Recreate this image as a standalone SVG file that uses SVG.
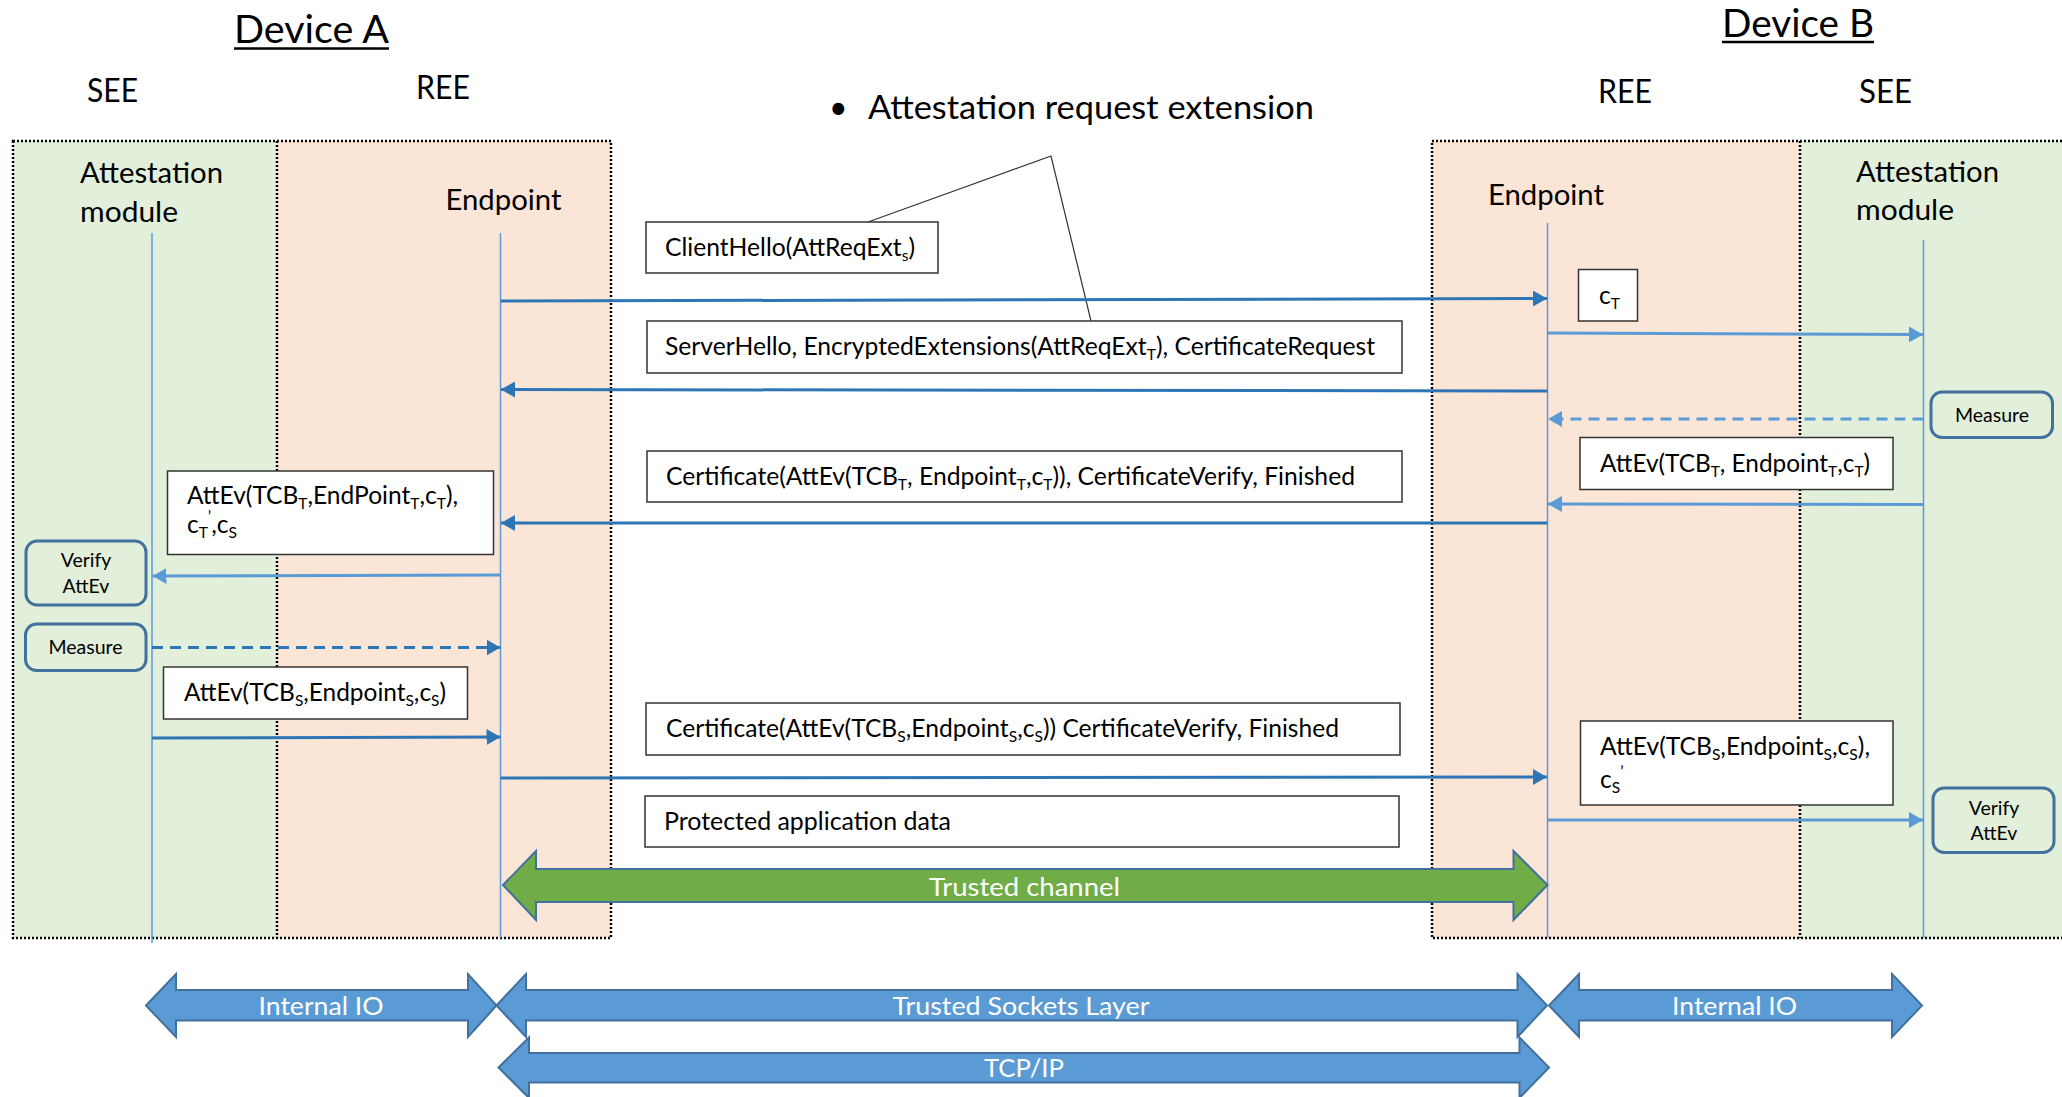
<svg xmlns="http://www.w3.org/2000/svg" width="2062" height="1097" viewBox="0 0 2062 1097">
  <style>
    text { font-family: Lato, "Liberation Sans", sans-serif; fill: #000; }
    .hdr { font-size: 38px; }
    .env { font-size: 32px; }
    .ent { font-size: 28.5px; }
    .lbl { font-size: 24.5px; }
    .small { font-size: 19.5px; }
    .band { font-size: 25px; fill: #fff; }
    .sub { font-size: 15.5px; }
    .sup { font-size: 15.5px; }
    .see { fill: #E2EFDA; }
    .ree { fill: #FBE5D6; }
    .dots { fill: none; stroke: #000; stroke-width: 2.5; stroke-dasharray: 2 2; }
    .life { stroke: #5B9BD5; stroke-width: 1.5; fill: none; }
    .msg { fill: #fff; stroke: #333; stroke-width: 1.5; }
    .act { fill: #E2EFDA; stroke: #41719C; stroke-width: 3; }
    .dark { stroke: #2E75B6; stroke-width: 3; fill: none; marker-end: url(#ahDark); }
    .light { stroke: #5B9BD5; stroke-width: 3; fill: none; marker-end: url(#ahLight); }
    .dash { stroke-dasharray: 11 7; }
    .blk { fill: #5B9BD5; stroke: #41719C; stroke-width: 2; }
    .grn { fill: #70AD47; stroke: #41719C; stroke-width: 2; }
    .callout { stroke: #333; stroke-width: 1.2; fill: none; }
  </style>
  <defs>
    <marker id="ahDark" markerUnits="userSpaceOnUse" markerWidth="16" markerHeight="16" refX="14" refY="8" orient="auto">
      <path d="M0,0 L14,8 L0,16 z" fill="#2E75B6"/>
    </marker>
    <marker id="ahLight" markerUnits="userSpaceOnUse" markerWidth="16" markerHeight="16" refX="14" refY="8" orient="auto">
      <path d="M0,0 L14,8 L0,16 z" fill="#5B9BD5"/>
    </marker>
  </defs>

  <rect width="2062" height="1097" fill="#fff"/>

  <!-- Device A environments -->
  <g id="deviceA">
    <rect class="see" x="13" y="141" width="264" height="797"/>
    <rect class="ree" x="277" y="141" width="334" height="797"/>
    <rect class="dots" x="13" y="141" width="598" height="797"/>
    <line class="dots" x1="277" y1="141" x2="277" y2="938"/>
    <text class="hdr" x="234" y="43" textLength="155" lengthAdjust="spacingAndGlyphs">Device A</text>
    <line x1="234" y1="48.5" x2="389" y2="48.5" stroke="#000" stroke-width="2.5"/>
    <text class="env" x="87" y="102" textLength="51" lengthAdjust="spacingAndGlyphs">SEE</text>
    <text class="env" x="416" y="99" textLength="54" lengthAdjust="spacingAndGlyphs">REE</text>
  </g>

  <!-- Device B environments -->
  <g id="deviceB">
    <rect class="ree" x="1432" y="141" width="368" height="797"/>
    <rect class="see" x="1800" y="141" width="262" height="797"/>
    <polyline class="dots" points="2062,141 1432,141 1432,938 2062,938"/>
    <line class="dots" x1="1800" y1="141" x2="1800" y2="938"/>
    <text class="hdr" x="1722" y="37" textLength="152" lengthAdjust="spacingAndGlyphs">Device B</text>
    <line x1="1722" y1="42" x2="1874" y2="42" stroke="#000" stroke-width="2.5"/>
    <text class="env" x="1598" y="102.5" textLength="54" lengthAdjust="spacingAndGlyphs">REE</text>
    <text class="env" x="1859" y="102.5" textLength="53" lengthAdjust="spacingAndGlyphs">SEE</text>
  </g>

  <!-- participants and lifelines -->
  <g id="attestA">
    <text class="ent" x="80" y="183" textLength="143" lengthAdjust="spacingAndGlyphs">Attestation</text>
    <text class="ent" x="80" y="222" textLength="98" lengthAdjust="spacingAndGlyphs">module</text>
    <line class="life" x1="152" y1="233" x2="152" y2="943"/>
  </g>
  <g id="endpointA">
    <text class="ent" x="445.5" y="210" textLength="116" lengthAdjust="spacingAndGlyphs">Endpoint</text>
    <line class="life" x1="500.5" y1="233" x2="500.5" y2="938"/>
  </g>
  <g id="endpointB">
    <text class="ent" x="1488" y="205" textLength="116" lengthAdjust="spacingAndGlyphs">Endpoint</text>
    <line class="life" x1="1547.5" y1="223" x2="1547.5" y2="938"/>
  </g>
  <g id="attestB">
    <text class="ent" x="1856" y="182" textLength="143" lengthAdjust="spacingAndGlyphs">Attestation</text>
    <text class="ent" x="1856" y="220" textLength="98" lengthAdjust="spacingAndGlyphs">module</text>
    <line class="life" x1="1923.5" y1="240" x2="1923.5" y2="938"/>
  </g>

  <!-- callout -->
  <g id="callout">
    <text class="env" x="829" y="119">•</text>
    <text class="env" x="868" y="119" textLength="446" lengthAdjust="spacingAndGlyphs">Attestation request extension</text>
    <polyline class="callout" points="868,222 1051,156 1091,321"/>
  </g>

  <!-- message labels -->
  <g id="clientHello">
    <rect class="msg" x="646" y="222" width="292" height="51"/>
    <text class="lbl" x="665" y="256" textLength="250" lengthAdjust="spacingAndGlyphs">ClientHello(AttReqExt<tspan class="sub" dy="5">s</tspan><tspan dy="-5">)</tspan></text>
  </g>
  <g id="serverHello">
    <rect class="msg" x="647" y="321" width="755" height="52"/>
    <text class="lbl" x="665" y="355" textLength="710" lengthAdjust="spacingAndGlyphs">ServerHello, EncryptedExtensions(AttReqExt<tspan class="sub" dy="5">T</tspan><tspan dy="-5">), CertificateRequest</tspan></text>
  </g>
  <g id="certificateT">
    <rect class="msg" x="647" y="451" width="755" height="51"/>
    <text class="lbl" x="666" y="485" textLength="689" lengthAdjust="spacingAndGlyphs">Certificate(AttEv(TCB<tspan class="sub" dy="5">T</tspan><tspan dy="-5">, Endpoint</tspan><tspan class="sub" dy="5">T</tspan><tspan dy="-5">,c</tspan><tspan class="sub" dy="5">T</tspan><tspan dy="-5">)), CertificateVerify, Finished</tspan></text>
  </g>
  <g id="certificateS">
    <rect class="msg" x="646" y="703" width="754" height="52"/>
    <text class="lbl" x="666" y="737" textLength="673" lengthAdjust="spacingAndGlyphs">Certificate(AttEv(TCB<tspan class="sub" dy="5">S</tspan><tspan dy="-5">,Endpoint</tspan><tspan class="sub" dy="5">S</tspan><tspan dy="-5">,c</tspan><tspan class="sub" dy="5">S</tspan><tspan dy="-5">)) CertificateVerify, Finished</tspan></text>
  </g>
  <g id="appData">
    <rect class="msg" x="645" y="796" width="754" height="51"/>
    <text class="lbl" x="664" y="830" textLength="287" lengthAdjust="spacingAndGlyphs">Protected application data</text>
  </g>
  <g id="cT">
    <rect class="msg" x="1578.5" y="269.5" width="59" height="51.5"/>
    <text class="lbl" x="1599" y="304">c<tspan class="sub" dy="5">T</tspan></text>
  </g>
  <g id="attEvTB">
    <rect class="msg" x="1580" y="437.5" width="313" height="52"/>
    <text class="lbl" x="1600" y="472" textLength="270" lengthAdjust="spacingAndGlyphs">AttEv(TCB<tspan class="sub" dy="5">T</tspan><tspan dy="-5">, Endpoint</tspan><tspan class="sub" dy="5">T</tspan><tspan dy="-5">,c</tspan><tspan class="sub" dy="5">T</tspan><tspan dy="-5">)</tspan></text>
  </g>
  <g id="attEvTA">
    <rect class="msg" x="167.5" y="471" width="326" height="83.5"/>
    <text class="lbl" x="187" y="504" textLength="271" lengthAdjust="spacingAndGlyphs">AttEv(TCB<tspan class="sub" dy="5">T</tspan><tspan dy="-5">,EndPoint</tspan><tspan class="sub" dy="5">T</tspan><tspan dy="-5">,c</tspan><tspan class="sub" dy="5">T</tspan><tspan dy="-5">),</tspan></text>
    <text class="lbl" x="187" y="533">c<tspan class="sub" dy="5">T</tspan><tspan class="sup" dy="-16">’</tspan><tspan dy="11">,c</tspan><tspan class="sub" dy="5">S</tspan></text>
  </g>
  <g id="attEvSA">
    <rect class="msg" x="163.5" y="667" width="304" height="52"/>
    <text class="lbl" x="184" y="701" textLength="262" lengthAdjust="spacingAndGlyphs">AttEv(TCB<tspan class="sub" dy="5">S</tspan><tspan dy="-5">,Endpoint</tspan><tspan class="sub" dy="5">S</tspan><tspan dy="-5">,c</tspan><tspan class="sub" dy="5">S</tspan><tspan dy="-5">)</tspan></text>
  </g>
  <g id="attEvSB">
    <rect class="msg" x="1580.5" y="721" width="312.5" height="84"/>
    <text class="lbl" x="1600" y="755" textLength="270" lengthAdjust="spacingAndGlyphs">AttEv(TCB<tspan class="sub" dy="5">S</tspan><tspan dy="-5">,Endpoint</tspan><tspan class="sub" dy="5">S</tspan><tspan dy="-5">,c</tspan><tspan class="sub" dy="5">S</tspan><tspan dy="-5">),</tspan></text>
    <text class="lbl" x="1600" y="788">c<tspan class="sub" dy="5">S</tspan><tspan class="sup" dy="-16">’</tspan></text>
  </g>

  <!-- local activities -->
  <g id="verifyA">
    <rect class="act" x="26" y="541" width="120" height="64" rx="11"/>
    <text class="small" x="86" y="567" text-anchor="middle">Verify</text>
    <text class="small" x="86" y="593" text-anchor="middle">AttEv</text>
  </g>
  <g id="measureA">
    <rect class="act" x="25.5" y="624" width="120.5" height="46.5" rx="11"/>
    <text class="small" x="85.5" y="654" text-anchor="middle">Measure</text>
  </g>
  <g id="measureB">
    <rect class="act" x="1931" y="392" width="121.5" height="45.5" rx="11"/>
    <text class="small" x="1992" y="422" text-anchor="middle">Measure</text>
  </g>
  <g id="verifyB">
    <rect class="act" x="1933" y="788" width="121" height="64.5" rx="11"/>
    <text class="small" x="1994" y="815" text-anchor="middle">Verify</text>
    <text class="small" x="1994" y="840" text-anchor="middle">AttEv</text>
  </g>

  <!-- message arrows -->
  <g id="connectors">
    <line class="dark" x1="500.5" y1="301" x2="1547" y2="298.5"/>
    <line class="light" x1="1547.5" y1="333" x2="1923" y2="334.5"/>
    <line class="dark" x1="1547.5" y1="391" x2="501" y2="389.5"/>
    <line class="light dash" x1="1923.5" y1="419" x2="1548" y2="419"/>
    <line class="light" x1="1923.5" y1="504.5" x2="1548" y2="504"/>
    <line class="dark" x1="1547.5" y1="523" x2="501" y2="523"/>
    <line class="light" x1="500.5" y1="575" x2="152.5" y2="576"/>
    <line class="dark dash" x1="152" y1="647.5" x2="500.5" y2="647.5"/>
    <line class="dark" x1="152" y1="738" x2="500.5" y2="737"/>
    <line class="dark" x1="500.5" y1="778" x2="1547" y2="777"/>
    <line class="light" x1="1547.5" y1="820" x2="1923" y2="820"/>
  </g>

  <!-- channel and layer bands -->
  <g id="trustedChannel">
    <polygon class="grn" points="503,885 536,851 536,869 1513.5,869 1513.5,851 1547.5,885 1513.5,920 1513.5,902 536,902 536,920"/>
    <text class="band" x="1024.5" y="896" text-anchor="middle" textLength="191" lengthAdjust="spacingAndGlyphs">Trusted channel</text>
  </g>
  <g id="internalIoA">
    <polygon class="blk" points="146,1005.5 176,974 176,990 468,990 468,974 496.5,1005.5 468,1037 468,1020.5 176,1020.5 176,1037"/>
    <text class="band" x="321" y="1014.5" text-anchor="middle" textLength="125" lengthAdjust="spacingAndGlyphs">Internal IO</text>
  </g>
  <g id="tsl">
    <polygon class="blk" points="496.5,1005.5 526,974 526,990 1517.5,990 1517.5,974 1547,1005.5 1517.5,1037 1517.5,1020.5 526,1020.5 526,1037"/>
    <text class="band" x="1021" y="1014.5" text-anchor="middle" textLength="257" lengthAdjust="spacingAndGlyphs">Trusted Sockets Layer</text>
  </g>
  <g id="internalIoB">
    <polygon class="blk" points="1549,1005.5 1579,974 1579,990 1892,990 1892,974 1922,1005.5 1892,1037 1892,1020.5 1579,1020.5 1579,1037"/>
    <text class="band" x="1734.5" y="1014.5" text-anchor="middle" textLength="125" lengthAdjust="spacingAndGlyphs">Internal IO</text>
  </g>
  <g id="tcpip">
    <polygon class="blk" points="498.5,1067.5 529,1037.5 529,1053 1519.5,1053 1519.5,1037.5 1549,1067.5 1519.5,1098 1519.5,1082.5 529,1082.5 529,1098"/>
    <text class="band" x="1024" y="1077" text-anchor="middle" textLength="80" lengthAdjust="spacingAndGlyphs">TCP/IP</text>
  </g>
</svg>
